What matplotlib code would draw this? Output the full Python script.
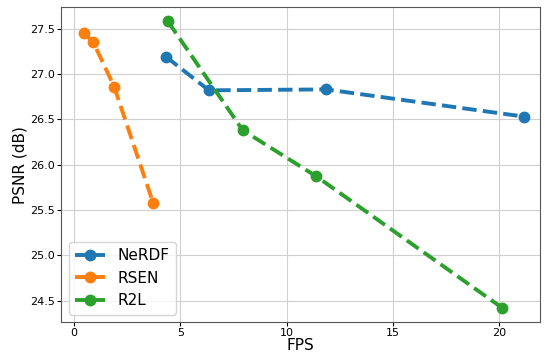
import matplotlib
matplotlib.use("Agg")
import matplotlib.pyplot as plt

# FPS / PSNR for each method
nerdf_fps = [4.32, 6.34, 11.85, 21.17]
nerdf_psnr = [27.19, 26.82, 26.83, 26.53]

rsen_fps = [0.45, 0.90, 1.88, 3.71]
rsen_psnr = [27.45, 27.35, 26.86, 25.58]

r2l_fps = [4.41, 7.93, 11.40, 20.14]
r2l_psnr = [27.58, 26.38, 25.87, 24.42]

fig, ax = plt.subplots(figsize=(5.45, 3.56), dpi=100)

ax.plot(nerdf_fps, nerdf_psnr, '--o', lw=2.8, ms=7.5, color='#1f77b4', label='NeRDF')
ax.plot(rsen_fps, rsen_psnr, '--o', lw=2.8, ms=7.5, color='#ff7f0e', label='RSEN')
ax.plot(r2l_fps, r2l_psnr, '--o', lw=2.8, ms=7.5, color='#2ca02c', label='R2L')

ax.set_xlabel('FPS', fontsize=11, labelpad=0)
ax.set_ylabel('PSNR (dB)', fontsize=11, labelpad=2)
ax.tick_params(labelsize=8, pad=1.5, length=3)
ax.set_xticks([0, 5, 10, 15, 20])
ax.set_xlim(-0.62, 21.9)
ax.grid(color='#d0d0d0', lw=0.8)
for s in ax.spines.values():
    s.set_color('#555555')
ax.legend(loc='lower left', fontsize=11, handlelength=2)

fig.subplots_adjust(left=0.112, right=0.99, top=0.98, bottom=0.095)
fig.savefig('out.png', dpi=100)
